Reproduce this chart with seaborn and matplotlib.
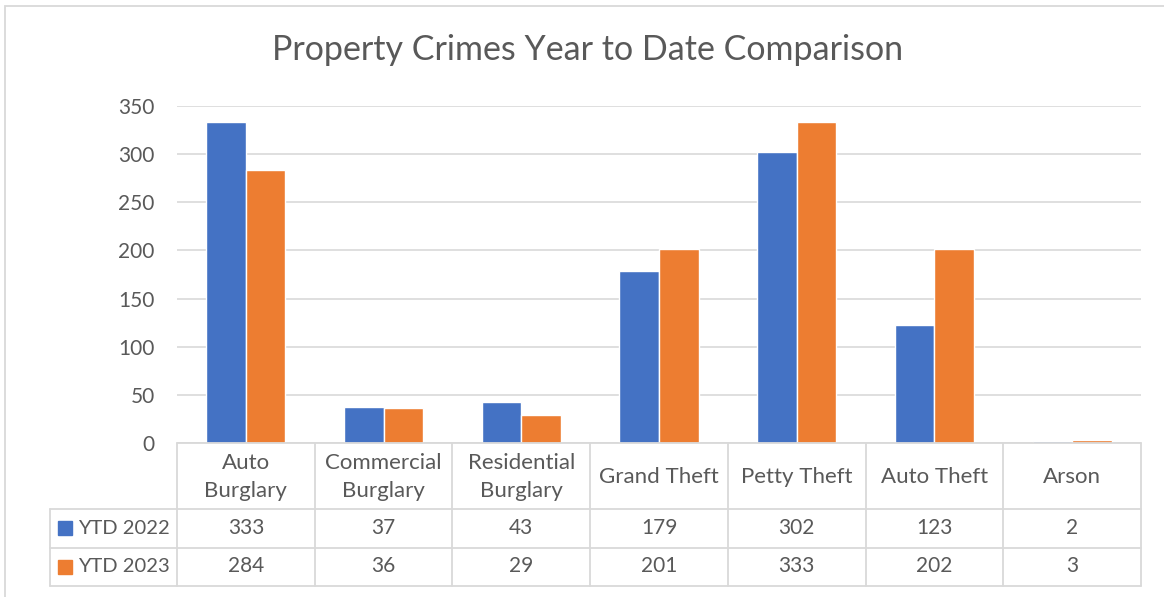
import matplotlib.pyplot as plt
import matplotlib.transforms as mtransforms
from matplotlib.patches import Rectangle
import pandas as pd
import seaborn as sns

# dati
categories = ["Auto\nBurglary", "Commercial\nBurglary", "Residential\nBurglary",
              "Grand Theft", "Petty Theft", "Auto Theft", "Arson"]
series_names = ["YTD 2022", "YTD 2023"]
ytd_2022 = [333, 37, 43, 179, 302, 123, 2]
ytd_2023 = [284, 36, 29, 201, 333, 202, 3]
colors = ["#4472C4", "#ED7D31"]

df = pd.DataFrame({
    "Category": categories * 2,
    "Series": [series_names[0]] * len(categories) + [series_names[1]] * len(categories),
    "Value": ytd_2022 + ytd_2023,
})

W, H = 1164, 597
TXT = "#595959"
GRID = "#d9d9d9"

sns.set_theme(style="white")
plt.rcParams["font.family"] = ["Lato", "DejaVu Sans"]

fig = plt.figure(figsize=(W / 100, H / 100), dpi=100)
ax = fig.add_axes([177 / W, 1 - 443 / H, (1141 - 177) / W, (443 - 106) / H])

sns.barplot(data=df, x="Category", y="Value", hue="Series", palette=colors,
            order=categories, hue_order=series_names, width=0.574,
            saturation=1, legend=False, ax=ax)

ax.set_xlim(-0.5, len(categories) - 0.5)
ax.set_ylim(0, 350)
ax.set_yticks(range(0, 351, 50))
ax.yaxis.grid(True, color=GRID, linewidth=1.2)
ax.set_axisbelow(True)
for s in ax.spines.values():
    s.set_visible(False)
ax.set_xlabel("")
ax.set_ylabel("")
ax.set_xticks([])
ax.tick_params(axis="y", length=0, pad=16, labelsize=15, labelcolor=TXT)

fig.text(588 / W, 1 - 50 / H, "Property Crimes Year to Date Comparison",
         ha="center", va="center", fontsize=24.5, color=TXT)

# tabella dati sotto il grafico
tr = mtransforms.blended_transform_factory(ax.transData, fig.transFigure)
def fy(p):
    return 1 - p / H

row_top, row1, row2, row_bot = 443, 509, 547.5, 585.5
n = len(categories)
lw = 1.3
for i in range(n + 1):
    ax.plot([i - 0.5, i - 0.5], [fy(row_top), fy(row_bot)], transform=tr,
            color=GRID, lw=lw, clip_on=False)
ax.plot([-0.5, n - 0.5], [fy(row_top), fy(row_top)], transform=tr, color=GRID, lw=lw, clip_on=False)
for yy in (row1, row2, row_bot):
    fig.add_artist(plt.Line2D([50 / W, 1141 / W], [fy(yy), fy(yy)], color=GRID, lw=lw))
fig.add_artist(plt.Line2D([50 / W, 50 / W], [fy(row1), fy(row_bot)], color=GRID, lw=lw))

for i, cat in enumerate(categories):
    ax.text(i, fy((row_top + row1) / 2 + 1), cat, transform=tr, ha="center", va="center",
            fontsize=16, color=TXT, linespacing=1.5)
    ax.text(i, fy((row1 + row2) / 2), str(ytd_2022[i]), transform=tr, ha="center",
            va="center", fontsize=15, color=TXT)
    ax.text(i, fy((row2 + row_bot) / 2), str(ytd_2023[i]), transform=tr, ha="center",
            va="center", fontsize=15, color=TXT)

for name, col, (a, b) in zip(series_names, colors, [(row1, row2), (row2, row_bot)]):
    yc = (a + b) / 2
    fig.add_artist(Rectangle((58 / W, fy(yc + 7)), 14 / W, 14 / H, color=col))
    fig.text(78 / W, fy(yc), name, ha="left", va="center", fontsize=14.5, color=TXT)

# bordo esterno del grafico
fig.add_artist(Rectangle((5 / W, -0.1), 1.2, 1 - 6 / H + 0.1, fill=False,
                         edgecolor=GRID, lw=1.3))

plt.savefig("out.png", dpi=100)
plt.close()
